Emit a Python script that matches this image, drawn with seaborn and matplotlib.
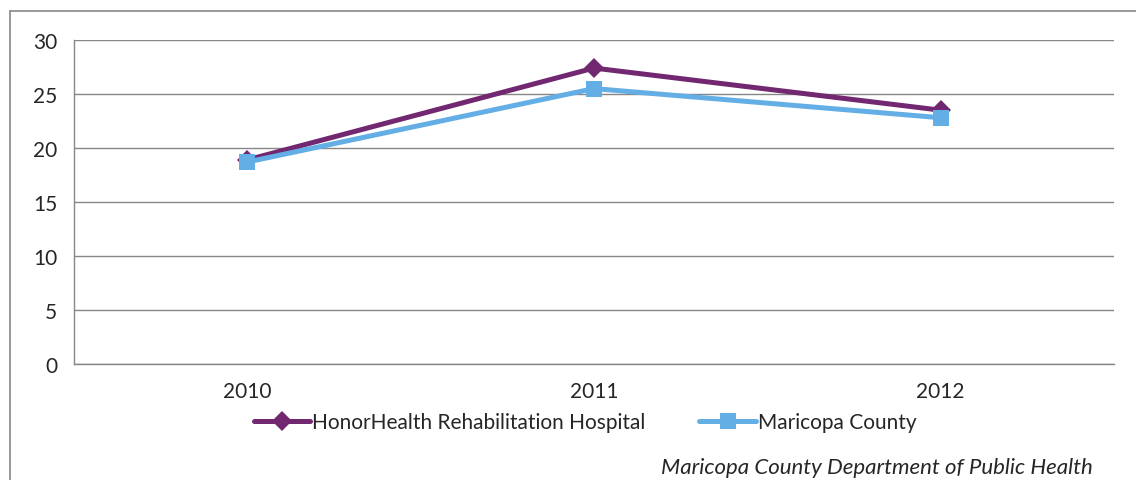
import numpy as np
import pandas as pd
import matplotlib
matplotlib.use("Agg")
import matplotlib.pyplot as plt
from matplotlib.lines import Line2D
import seaborn as sns

years = ["2010", "2011", "2012"]
hospital = [18.9, 27.4, 23.5]
county = [18.7, 25.5, 22.8]
series_names = ["HonorHealth Rehabilitation Hospital", "Maricopa County"]
y_ticks = [0, 5, 10, 15, 20, 25, 30]

df = pd.DataFrame({
    "pos": list(range(len(years))) * 2,
    "value": hospital + county,
    "series": [series_names[0]] * len(years) + [series_names[1]] * len(years),
})

sns.set_style("white")
plt.rcParams["font.family"] = ["Lato", "DejaVu Sans"]
FS = 15

fig = plt.figure(figsize=(11.36, 4.81), dpi=100)
ax = fig.add_axes([0.0651, 0.2412, 0.9155, 0.6736])

palette = {series_names[0]: "#722871", series_names[1]: "#64AEE6"}
markers = {series_names[0]: "D", series_names[1]: "s"}
sns.lineplot(data=df, x="pos", y="value", hue="series", style="series",
             palette=palette, markers=markers, dashes=False, linewidth=3.6,
             markersize=11, markeredgewidth=0, ax=ax, legend=False)
# diamond a bit smaller than the square
for line, ms in zip(ax.get_lines(), [10, 12]):
    line.set_markersize(ms)

ax.set_xlim(-0.5, len(years) - 0.5)
ax.set_ylim(0, 30)
ax.set_yticks(y_ticks)
ax.set_yticklabels([str(t) for t in y_ticks], fontsize=FS)
ax.set_xticks(range(len(years)))
ax.set_xticklabels(years, fontsize=FS)
ax.set_xticks(np.arange(-0.5, len(years)), minor=True)
ax.tick_params(axis="x", which="major", length=0, pad=12)
ax.tick_params(axis="x", which="minor", length=7, width=1, color="#868686",
               direction="out")
ax.tick_params(axis="y", length=6, width=1, color="#868686", pad=6,
               direction="out")
ax.set_xlabel("")
ax.set_ylabel("")
ax.grid(True, axis="y", color="#868686", linewidth=1)
ax.set_axisbelow(True)
for side in ["top", "right"]:
    ax.spines[side].set_visible(False)
for side in ["left", "bottom"]:
    ax.spines[side].set_color("#868686")
    ax.spines[side].set_linewidth(1)

handles = [Line2D([], [], color=palette[n], marker=markers[n], linewidth=3.6,
                  markersize=10 if n == series_names[0] else 11,
                  markeredgewidth=0) for n in series_names]
fig.legend(handles, series_names, loc="center", bbox_to_anchor=(0.515, 0.121),
           ncol=2, frameon=False, fontsize=FS, handlelength=2.7,
           handletextpad=0.1, columnspacing=2.6)

fig.text(0.962, 0.027, "Maricopa County Department of Public Health",
         ha="right", va="center", fontsize=FS + 1, style="italic")

# outer frame
fig.add_artist(Line2D([0.0088, 0.0088], [0, 0.975], color="#868686",
                      linewidth=1.2, transform=fig.transFigure))
fig.add_artist(Line2D([0.0088, 1.0], [0.975, 0.975], color="#868686",
                      linewidth=1.2, transform=fig.transFigure))

fig.savefig("out.png", dpi=100)
